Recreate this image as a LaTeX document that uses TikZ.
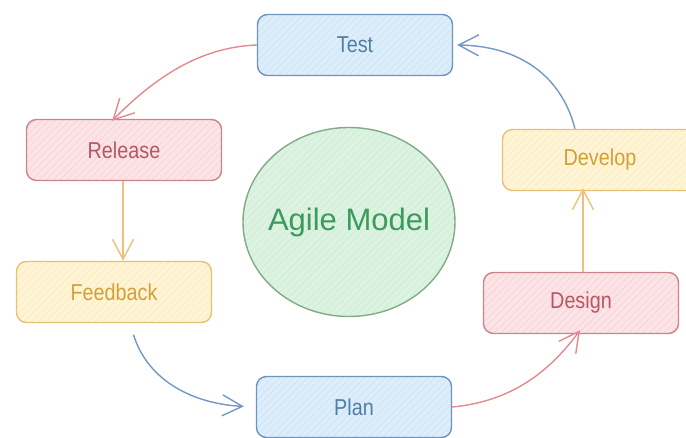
\documentclass[tikz,border=0pt]{standalone}
\usepackage{fontspec}
\setmainfont{Liberation Sans}
\usetikzlibrary{arrows.meta,patterns.meta,shapes.geometric}

% stroke / fill / hatch / text colours of the three box families and the centre
\definecolor{blueS}{HTML}{7093BE}
\definecolor{blueF}{HTML}{DDEEFB}
\definecolor{blueH}{HTML}{C9E1F5}
\definecolor{blueT}{HTML}{507FA6}
\definecolor{redS}{HTML}{CC848B}
\definecolor{redF}{HTML}{FCE4E6}
\definecolor{redH}{HTML}{F4CDD1}
\definecolor{redT}{HTML}{BA5664}
\definecolor{yelS}{HTML}{E6C274}
\definecolor{yelF}{HTML}{FFF5D6}
\definecolor{yelH}{HTML}{FBE8B4}
\definecolor{yelT}{HTML}{D3A038}
\definecolor{grnS}{HTML}{82AA86}
\definecolor{grnF}{HTML}{DDF3E2}
\definecolor{grnH}{HTML}{CBEAD2}
\definecolor{grnT}{HTML}{3E9A5C}
% connector colours
\definecolor{lnRed}{HTML}{E38A90}
\definecolor{lnYel}{HTML}{F2BE78}
\definecolor{lnBlue}{HTML}{7398C5}

% slightly condensed box labels
\newcommand{\boxlabel}[1]{\scalebox{0.86}[1]{#1}}

\tikzset{
  stage/.style n args={3}{draw=#1, line width=1.4pt, rounded corners=10pt,
    minimum width=195pt, minimum height=61pt,
    preaction={fill=#2},
    pattern={Lines[angle=45,distance=5pt,line width=0.5pt]}, pattern color=#3,
    font=\fontsize{23}{25}\selectfont},
  bluebox/.style={stage={blueS}{blueF}{blueH}, text=blueT},
  redbox/.style={stage={redS}{redF}{redH}, text=redT},
  yelbox/.style={stage={yelS}{yelF}{yelH}, text=yelT},
  flow/.style={line width=1.4pt, -{Straight Barb[length=20pt,width=21pt,line width=1.4pt]}},
}

\begin{document}
\begin{tikzpicture}[x=1pt,y=-1pt]
  \useasboundingbox (0,0) rectangle (686,438);

  % centre label (text kept out of the size of the ellipse)
  \node[ellipse, draw=grnS, line width=1.4pt, minimum width=212pt, minimum height=189pt,
        preaction={fill=grnF},
        pattern={Lines[angle=45,distance=5pt,line width=0.5pt]}, pattern color=grnH,
        text=grnT, font=\fontsize{31}{34}\selectfont, inner sep=0pt]
        (agile) at (349,222) {\makebox[0pt]{Agile Model}};

  % the six stages of the cycle
  \node[bluebox] (test)     at (355,45)  {\boxlabel{Test}};
  \node[redbox]  (release)  at (124,150) {\boxlabel{Release}};
  \node[yelbox]  (feedback) at (114,292) {\boxlabel{Feedback}};
  \node[bluebox] (plan)     at (354,407) {\boxlabel{Plan}};
  \node[redbox]  (design)   at (581,303) {\boxlabel{Design}};
  \node[yelbox]  (develop)  at (600,160) {\boxlabel{Develop}};

  % connectors around the cycle
  \draw[flow, lnRed] (test.west) .. controls (205,47) and (160,72) ..
        ([xshift=-110pt,yshift=-2pt]release.north east);
  \draw[flow, lnYel] ([xshift=-1pt]release.south) -- ([xshift=-1pt]release.south |- feedback.north);
  \draw[flow, lnBlue, shorten <=12pt, shorten >=12pt] ([xshift=16pt]feedback.south)
        .. controls (148,382) and (195,404) .. (plan.west);
  \draw[flow, lnRed] (plan.east) .. controls (505,402) and (545,378) ..
        ([xshift=-1pt,yshift=4pt]design.south);
  \draw[flow, lnYel] ([xshift=2pt]design.north) -- ([xshift=2pt,yshift=3pt]design.north |- develop.south);
  \draw[flow, lnBlue] ([xshift=-25pt]develop.north) .. controls (562,78) and (522,46) ..
        ([xshift=4pt]test.east);
\end{tikzpicture}
\end{document}
